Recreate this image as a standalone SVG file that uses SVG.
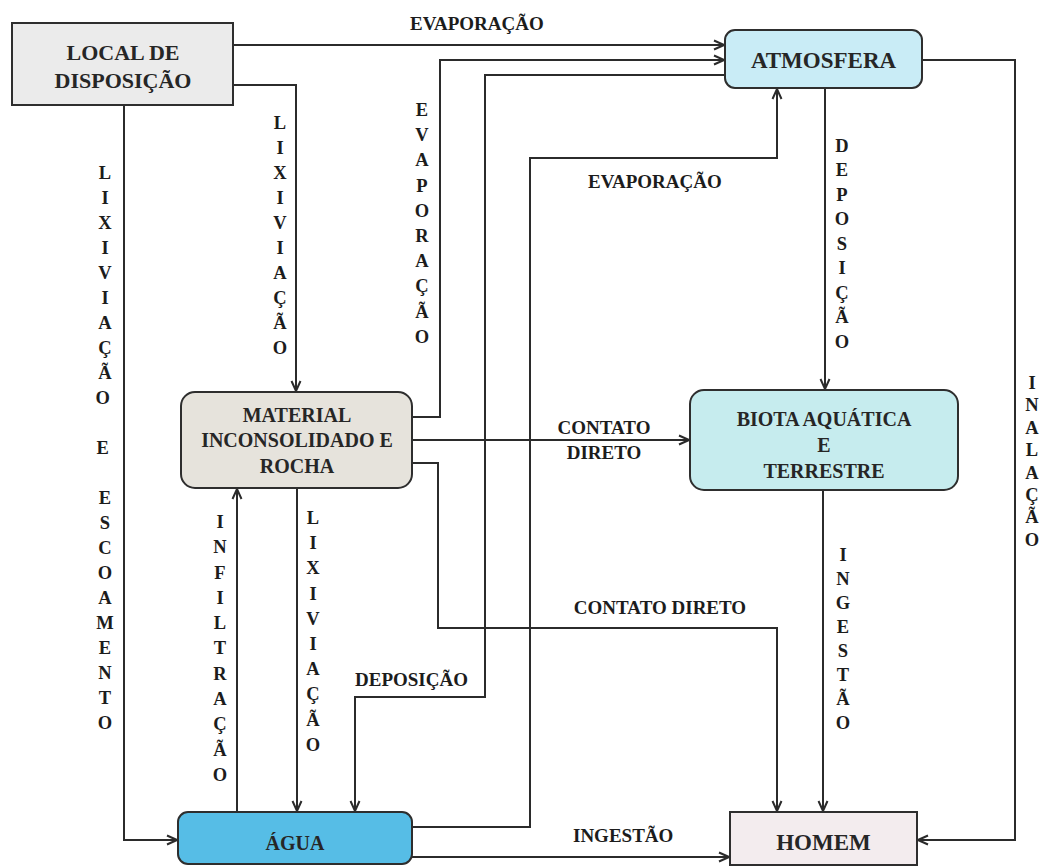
<svg xmlns="http://www.w3.org/2000/svg" width="1044" height="867" viewBox="0 0 1044 867">
  <defs>
    <marker id="arr" viewBox="0 0 12 12" refX="11" refY="6" markerWidth="12" markerHeight="12" markerUnits="userSpaceOnUse" orient="auto">
      <path d="M1,1.5 L11,6 L1,10.5" fill="none" stroke="#2b2b2b" stroke-width="2"/>
    </marker>
    <style>
      .box { stroke: #2e2e2e; stroke-width: 2; }
      .ntxt { font-family: "Liberation Serif", "Times New Roman", serif; font-weight: bold; text-anchor: middle; fill: #262626; }
      .lbl { font-family: "Liberation Serif", "Times New Roman", serif; font-weight: bold; font-size: 19px; fill: #1c1c1c; }
      .vl { font-family: "Liberation Serif", "Times New Roman", serif; font-weight: bold; font-size: 18.5px; fill: #1c1c1c; text-anchor: middle; }
      .ln { fill: none; stroke: #2b2b2b; stroke-width: 2; }
      .ar { marker-end: url(#arr); }
    </style>
  </defs>
  <rect width="1044" height="867" fill="#ffffff"/>

  <!-- connectors -->
  <g id="connectors">
    <!-- local -> atmosfera -->
    <path class="ln ar" d="M233,45 H724"/>
    <!-- local -> material -->
    <path class="ln ar" d="M233,85 H296 V391"/>
    <!-- local -> agua -->
    <path class="ln ar" d="M124,105 V840 H177"/>
    <!-- material -> atmosfera -->
    <path class="ln ar" d="M412,417 H440 V60 H724"/>
    <!-- material -> biota -->
    <path class="ln ar" d="M412,440 H689"/>
    <!-- material -> homem -->
    <path class="ln ar" d="M412,463 H438 V628 H777 V811"/>
    <!-- material -> agua -->
    <path class="ln ar" d="M297,488 V811"/>
    <!-- agua -> material -->
    <path class="ln ar" d="M237,812 V489"/>
    <!-- atmosfera -> agua -->
    <path class="ln ar" d="M725,75 H485 V697 H355 V811"/>
    <!-- agua -> atmosfera -->
    <path class="ln ar" d="M412,827 H530 V158 H777 V89"/>
    <!-- atmosfera -> biota -->
    <path class="ln ar" d="M825,88 V389"/>
    <!-- biota -> homem -->
    <path class="ln ar" d="M823,490 V811"/>
    <!-- atmosfera -> homem -->
    <path class="ln ar" d="M922,60 H1015 V840 H918"/>
    <!-- agua -> homem -->
    <path class="ln ar" d="M412,857 H729"/>

    <!-- horizontal labels -->
    <text class="lbl" x="410" y="30" font-size="20">EVAPORAÇÃO</text>
    <text class="lbl" x="588" y="188" font-size="20">EVAPORAÇÃO</text>
    <text class="lbl" x="604" y="434" text-anchor="middle">CONTATO</text>
    <text class="lbl" x="604" y="459" text-anchor="middle">DIRETO</text>
    <text class="lbl" x="660" y="614" text-anchor="middle">CONTATO DIRETO</text>
    <text class="lbl" x="355" y="686" font-size="20">DEPOSIÇÃO</text>
    <text class="lbl" x="573" y="842">INGESTÃO</text>

    <!-- vertical labels -->
    <text class="vl">
      <tspan x="105" y="179">L</tspan><tspan x="105" y="204">I</tspan><tspan x="105" y="229">X</tspan><tspan x="105" y="254">I</tspan><tspan x="105" y="279">V</tspan><tspan x="105" y="304">I</tspan><tspan x="105" y="329">A</tspan><tspan x="105" y="354">Ç</tspan><tspan x="105" y="379">Ã</tspan><tspan x="105" y="404">O</tspan>
      <tspan x="105" y="454">E</tspan>
      <tspan x="105" y="504">E</tspan><tspan x="105" y="529">S</tspan><tspan x="105" y="554">C</tspan><tspan x="105" y="579">O</tspan><tspan x="105" y="604">A</tspan><tspan x="105" y="629">M</tspan><tspan x="105" y="654">E</tspan><tspan x="105" y="679">N</tspan><tspan x="105" y="704">T</tspan><tspan x="105" y="729">O</tspan>
    </text>
    <text class="vl">
      <tspan x="280" y="129">L</tspan><tspan x="280" y="154">I</tspan><tspan x="280" y="179">X</tspan><tspan x="280" y="204">I</tspan><tspan x="280" y="229">V</tspan><tspan x="280" y="254">I</tspan><tspan x="280" y="279">A</tspan><tspan x="280" y="304">Ç</tspan><tspan x="280" y="329">Ã</tspan><tspan x="280" y="354">O</tspan>
    </text>
    <text class="vl">
      <tspan x="422" y="116">E</tspan><tspan x="422" y="141">V</tspan><tspan x="422" y="166">A</tspan><tspan x="422" y="192">P</tspan><tspan x="422" y="217">O</tspan><tspan x="422" y="242">R</tspan><tspan x="422" y="267">A</tspan><tspan x="422" y="292">Ç</tspan><tspan x="422" y="318">Ã</tspan><tspan x="422" y="343">O</tspan>
    </text>
    <text class="vl">
      <tspan x="842" y="152">D</tspan><tspan x="842" y="176">E</tspan><tspan x="842" y="201">P</tspan><tspan x="842" y="225">O</tspan><tspan x="842" y="250">S</tspan><tspan x="842" y="274">I</tspan><tspan x="842" y="299">Ç</tspan><tspan x="842" y="323">Ã</tspan><tspan x="842" y="348">O</tspan>
    </text>
    <text class="vl">
      <tspan x="220" y="528">I</tspan><tspan x="220" y="553">N</tspan><tspan x="220" y="579">F</tspan><tspan x="220" y="604">I</tspan><tspan x="220" y="629">L</tspan><tspan x="220" y="654">T</tspan><tspan x="220" y="680">R</tspan><tspan x="220" y="705">A</tspan><tspan x="220" y="730">Ç</tspan><tspan x="220" y="756">Ã</tspan><tspan x="220" y="781">O</tspan>
    </text>
    <text class="vl">
      <tspan x="313" y="524">L</tspan><tspan x="313" y="549">I</tspan><tspan x="313" y="574">X</tspan><tspan x="313" y="600">I</tspan><tspan x="313" y="625">V</tspan><tspan x="313" y="650">I</tspan><tspan x="313" y="675">A</tspan><tspan x="313" y="700">Ç</tspan><tspan x="313" y="726">Ã</tspan><tspan x="313" y="751">O</tspan>
    </text>
    <text class="vl">
      <tspan x="843" y="561">I</tspan><tspan x="843" y="585">N</tspan><tspan x="843" y="609">G</tspan><tspan x="843" y="633">E</tspan><tspan x="843" y="657">S</tspan><tspan x="843" y="681">T</tspan><tspan x="843" y="705">Ã</tspan><tspan x="843" y="729">O</tspan>
    </text>
    <text class="vl">
      <tspan x="1032" y="389">I</tspan><tspan x="1032" y="411">N</tspan><tspan x="1032" y="434">A</tspan><tspan x="1032" y="456">L</tspan><tspan x="1032" y="479">A</tspan><tspan x="1032" y="501">Ç</tspan><tspan x="1032" y="523">Ã</tspan><tspan x="1032" y="546">O</tspan>
    </text>
  </g>

  <!-- nodes -->
  <g id="local">
    <rect class="box" x="12" y="23" width="221" height="82" fill="#ebebeb"/>
    <text class="ntxt" x="123" y="60" font-size="22">LOCAL DE</text>
    <text class="ntxt" x="123" y="88" font-size="22">DISPOSIÇÃO</text>
  </g>
  <g id="atmosfera">
    <rect class="box" x="725" y="30" width="197" height="58" rx="10" fill="#c9ecf6"/>
    <text class="ntxt" x="823.5" y="68" font-size="23" fill="#27393d">ATMOSFERA</text>
  </g>
  <g id="material">
    <rect class="box" x="181" y="392" width="231" height="96" rx="14" fill="#e6e3dc"/>
    <text class="ntxt" x="297" y="422" font-size="20">MATERIAL</text>
    <text class="ntxt" x="297" y="447" font-size="20">INCONSOLIDADO E</text>
    <text class="ntxt" x="297" y="473" font-size="20">ROCHA</text>
  </g>
  <g id="biota">
    <rect class="box" x="690" y="390" width="268" height="100" rx="14" fill="#c6ecee"/>
    <text class="ntxt" x="824" y="426" font-size="20" fill="#263a3d">BIOTA AQUÁTICA</text>
    <text class="ntxt" x="824" y="452" font-size="20" fill="#263a3d">E</text>
    <text class="ntxt" x="824" y="478" font-size="20" fill="#263a3d">TERRESTRE</text>
  </g>
  <g id="agua">
    <rect class="box" x="178" y="812" width="234" height="52" rx="10" fill="#56bde6"/>
    <text class="ntxt" x="295" y="850" font-size="20" fill="#2c4f5c">ÁGUA</text>
  </g>
  <g id="homem">
    <rect class="box" x="730" y="812" width="187" height="53" fill="#f3ecee"/>
    <text class="ntxt" x="823.5" y="850" font-size="23">HOMEM</text>
  </g>
</svg>
